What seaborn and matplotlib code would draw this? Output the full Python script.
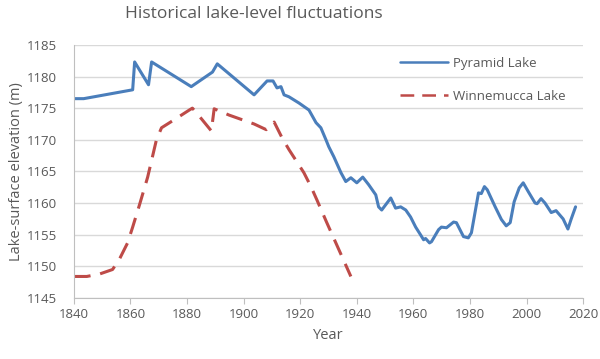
import numpy as np
import pandas as pd
import seaborn as sns
import matplotlib.pyplot as plt

# Pyramid Lake elevation (m)
pyramid_year = [1840, 1843.5, 1860.8, 1861.5, 1866.4, 1867.5, 1881.5, 1889, 1890.7,
                1903.7, 1908.3, 1910.4, 1911.8, 1913.2, 1914.3, 1916.0, 1919.6, 1923.1,
                1925.6, 1927.3, 1929.1, 1930.1, 1931.9, 1934.4, 1936.1, 1937.9, 1940.0,
                1942.1, 1944.2, 1946.7, 1947.7, 1948.8, 1952.0, 1953.7, 1955.5, 1957.3,
                1959.0, 1960.8, 1962.5, 1963.6, 1964.3, 1965.7, 1966.4, 1968.9, 1969.9,
                1971.7, 1974.2, 1975.2, 1977.7, 1979.4, 1980.5, 1983.0, 1984.0, 1985.1,
                1986.1, 1988.9, 1991.1, 1992.8, 1994.2, 1995.6, 1997.4, 1998.8, 2000.6,
                2003.0, 2003.7, 2005.1, 2006.5, 2008.7, 2010.4, 2012.9, 2014.6, 2015.7,
                2017.3]
pyramid_elev = [1176.5, 1176.5, 1177.9, 1182.3, 1178.7, 1182.3, 1178.4, 1180.7, 1182.0,
                1177.1, 1179.3, 1179.3, 1178.2, 1178.4, 1177.1, 1176.8, 1175.8, 1174.7,
                1172.7, 1171.9, 1170.0, 1168.9, 1167.3, 1164.8, 1163.4, 1164.0, 1163.2,
                1164.1, 1162.9, 1161.3, 1159.4, 1158.9, 1160.8, 1159.2, 1159.4, 1158.9,
                1157.8, 1156.2, 1155.0, 1154.2, 1154.4, 1153.7, 1153.9, 1155.8, 1156.2,
                1156.1, 1157.0, 1156.9, 1154.7, 1154.5, 1155.3, 1161.6, 1161.5, 1162.6,
                1162.1, 1159.4, 1157.4, 1156.4, 1156.9, 1160.2, 1162.4, 1163.2, 1161.8,
                1160.0, 1159.9, 1160.7, 1160.0, 1158.5, 1158.8, 1157.5, 1155.9, 1157.4,
                1159.4]

# Winnemucca Lake elevation (m)
winnemucca_year = [1840, 1844.6, 1849.2, 1853.7, 1856.2, 1859.0, 1860.8, 1863.2, 1866.1,
                   1869.2, 1871.0, 1875.6, 1880.8, 1881.9, 1883.3, 1888.6, 1889.6, 1894.9,
                   1903.7, 1908.0, 1910.8, 1913.6, 1916.1, 1921.3, 1923.8, 1925.9, 1929.4,
                   1933.7, 1937.9]
winnemucca_elev = [1148.4, 1148.4, 1148.8, 1149.5, 1151.2, 1153.7, 1156.2, 1159.7, 1164.1,
                   1170.0, 1171.9, 1173.2, 1174.7, 1175.0, 1174.3, 1171.4, 1174.9, 1173.9,
                   1172.5, 1171.6, 1172.8, 1170.3, 1168.4, 1164.8, 1162.6, 1160.5, 1156.9,
                   1152.6, 1148.4]

sns.set_style("white")
plt.rcParams['font.family'] = ['Open Sans', 'DejaVu Sans']
grey = '#595959'

fig = plt.figure(figsize=(6, 3.59), dpi=100)
ax = fig.add_axes([0.123, 0.17, 0.849, 0.705])

sns.lineplot(x=pyramid_year, y=pyramid_elev, ax=ax, color='#4A7EBB', lw=2.2,
             estimator=None, sort=False, label='Pyramid Lake')
sns.lineplot(x=winnemucca_year, y=winnemucca_elev, ax=ax, color='#BE4B48', lw=2.2,
             estimator=None, sort=False, dashes=False, label='Winnemucca Lake')
ax.lines[1].set_dashes((5.5, 3.2))

ax.set_xlim(1840, 2020)
ax.set_ylim(1145, 1185)
ax.set_xticks(np.arange(1840, 2021, 20))
ax.set_yticks(np.arange(1145, 1186, 5))
ax.grid(axis='y', color='#D9D9D9', lw=1)
ax.set_axisbelow(True)
for s in ['top', 'right']:
    ax.spines[s].set_visible(False)
for s in ['left', 'bottom']:
    ax.spines[s].set_color('#BFBFBF')
ax.tick_params(axis='x', direction='out', length=4, color='#BFBFBF', labelsize=9.5,
               labelcolor=grey, pad=3, bottom=True)
ax.tick_params(axis='y', length=0, labelsize=9.5, labelcolor=grey, pad=12)

fig.text(254 / 600, 1 - 14 / 359, 'Historical lake-level fluctuations', fontsize=12.5,
         color=grey, ha='center', va='center')
ax.set_xlabel('Year', fontsize=10.5, color=grey, labelpad=5)
ax.set_ylabel('Lake-surface elevation (m)', fontsize=10.5, color=grey, labelpad=2)

leg = ax.legend(loc='upper left', frameon=False, fontsize=9.5, handlelength=3.6,
                handletextpad=0.4, labelspacing=1.5, borderpad=0, borderaxespad=0,
                bbox_to_anchor=(400 / 600, 1 - 57 / 359), bbox_transform=fig.transFigure)
for t in leg.get_texts():
    t.set_color(grey)
for ln in leg.get_lines():
    ln.set_linewidth(1.8)

fig.savefig('out.png', dpi=100)
